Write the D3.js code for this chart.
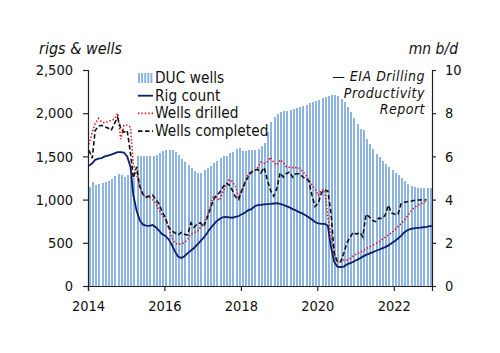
<!DOCTYPE html>
<html>
<head>
<meta charset="utf-8">
<script src="https://cdn.jsdelivr.net/npm/d3@7"></script>
<style>
  body { margin: 0; background: #fff; }
  text { font-family: "DejaVu Sans Condensed", "DejaVu Sans", sans-serif; fill: #111; }
</style>
</head>
<body>
<div id="chart"></div>
<script>
// monthly data starting Jan 2014
var startYear = 2014;

var ducWells = [1150, 1200, 1170, 1185, 1190, 1205, 1220, 1240, 1270, 1300, 1290, 1260,
  1280, 1270, 1250, 1510, 1510, 1510, 1505, 1510, 1510, 1520, 1540, 1565,
  1575, 1570, 1575, 1550, 1520, 1475, 1440, 1400, 1360, 1330, 1305, 1310,
  1340, 1365, 1385, 1420, 1445, 1480, 1500, 1505, 1535, 1550, 1590, 1600,
  1560, 1560, 1570, 1575, 1570, 1590, 1625, 1660, 1780, 1900, 1960, 1990,
  2010, 2025, 2030, 2040, 2050, 2055, 2070, 2085, 2100, 2115, 2125, 2140,
  2155, 2175, 2190, 2200, 2205, 2210, 2200, 2165, 2130, 2070, 2010, 1940,
  1870, 1815, 1800, 1700, 1640, 1580, 1530, 1490, 1450, 1410, 1380, 1340,
  1310, 1290, 1255, 1215, 1180, 1160, 1145, 1135, 1130, 1130, 1130, 1130];

var rigCount = [1390, 1420, 1460, 1475, 1480, 1500, 1510, 1520, 1535, 1550, 1550, 1545,
  1500, 1380, 1050, 870, 760, 710, 700, 695, 705, 680, 640, 600,
  580, 540, 480, 400, 340, 325, 345, 380, 410, 440, 480, 520,
  560, 610, 660, 705, 745, 775, 795, 800, 795, 790, 800, 810,
  830, 850, 875, 890, 920, 935, 940, 945, 948, 950, 955, 958,
  950, 940, 925, 910, 890, 875, 855, 840, 820, 795, 770, 740,
  725, 720, 718, 700, 450, 280, 225, 220, 225, 250, 265, 280,
  300, 320, 340, 360, 375, 390, 405, 420, 435, 450, 470, 495,
  520, 550, 580, 620, 645, 660, 668, 672, 675, 680, 685, 692, 695];

var wellsDrilled = [1640, 1780, 1880, 1940, 1900, 1890, 1900, 1920, 1930, 2000, 1700, 1860,
  1860, 1840, 1400, 1300, 1150, 1060, 1030, 1030, 1000, 960, 880, 820,
  770, 680, 560, 500, 480, 490, 500, 540, 600, 620, 625, 680,
  710, 800, 900, 1030, 1030, 990, 1080, 1160, 1230, 1210, 1150, 1030,
  1100, 1200, 1300, 1320, 1330, 1370, 1435, 1420, 1440, 1490, 1430, 1400,
  1460, 1430, 1380, 1375, 1370, 1370, 1365, 1330, 1290, 1230, 1170, 1120,
  1050, 1110, 1110, 800, 600, 360, 280, 280, 300, 300, 320, 350,
  370, 390, 405, 430, 450, 470, 490, 505, 540, 565, 590, 615,
  650, 690, 720, 760, 810, 860, 900, 930, 950, 965, 985];

var wellsCompleted = [1570, 1480, 1800, 1850, 1860, 1840, 1830, 1800, 1880, 1950, 1820, 1780,
  1800, 1540, 1250, 1380, 1150, 1060, 1030, 1040, 1050, 1000, 950, 860,
  790, 680, 640, 615, 590, 620, 600, 590, 730, 680, 720, 730,
  690, 780, 880, 990, 1050, 1080, 1140, 1190, 1170, 1110, 1030, 1000,
  1110, 1200, 1260, 1320, 1340, 1350, 1310, 1370, 1230, 1110, 1040, 1130,
  1310, 1260, 1300, 1320, 1260, 1300, 1300, 1270, 1240, 1220, 1050, 920,
  960, 1080, 1110, 1100, 850, 380, 280, 280, 380, 500, 570, 620,
  600, 620, 570, 830, 800, 760, 745, 785, 780, 820, 935, 845,
  830, 830, 950, 970, 975, 980, 990, 995, 995, 1000, 995];

var leftTicks = [0, 500, 1000, 1500, 2000, 2500];
var rightTicks = [0, 2, 4, 6, 8, 10];
var yearTicks = [2014, 2016, 2018, 2020, 2022];

var legendItems = [
  { name: "DUC wells", type: "bar" },
  { name: "Rig count", type: "line", color: "#0c1f6b", dash: null, w: 1.8 },
  { name: "Wells drilled", type: "line", color: "#e0121b", dash: "1.4,2", w: 1.6 },
  { name: "Wells completed", type: "line", color: "#111", dash: "4.5,2.5", w: 1.6 }
];

var W = 500, H = 353;
var svg = d3.select("#chart").append("svg")
  .attr("width", W).attr("height", H);

var x = d3.scaleTime()
  .domain([new Date(2014, 0, 1), new Date(2023, 0, 1)])
  .range([88, 432]);
var y = d3.scaleLinear().domain([0, 2500]).range([286, 70]);
var y2 = d3.scaleLinear().domain([0, 10]).range([286, 70]);

function monthDate(i) { return new Date(startYear, i, 1); }

// DUC bars
svg.append("g").selectAll("rect")
  .data(ducWells)
  .join("rect")
  .attr("x", function (d, i) { return x(monthDate(i)) + 1; })
  .attr("y", function (d) { return y(d); })
  .attr("width", 2)
  .attr("height", function (d) { return y(0) - y(d); })
  .attr("fill", "#8db4e2")
  .attr("shape-rendering", "crispEdges");

var line = d3.line()
  .x(function (d, i) { return x(monthDate(i)) + 1; })
  .y(function (d) { return y(d); });

svg.append("path").datum(rigCount)
  .attr("d", line).attr("fill", "none")
  .attr("stroke", legendItems[1].color).attr("stroke-width", legendItems[1].w);
svg.append("path").datum(wellsDrilled)
  .attr("d", line).attr("fill", "none")
  .attr("stroke", legendItems[2].color).attr("stroke-width", legendItems[2].w)
  .attr("stroke-dasharray", legendItems[2].dash);
svg.append("path").datum(wellsCompleted)
  .attr("d", line).attr("fill", "none")
  .attr("stroke", legendItems[3].color).attr("stroke-width", legendItems[3].w)
  .attr("stroke-dasharray", legendItems[3].dash);

// axes
var leftAxis = svg.append("g").attr("transform", "translate(88,0)")
  .call(d3.axisLeft(y).tickValues(leftTicks).tickSize(5).tickPadding(10)
    .tickFormat(d3.format(",")));
var rightAxis = svg.append("g").attr("transform", "translate(432,0)")
  .call(d3.axisRight(y2).tickValues(rightTicks).tickSize(4).tickPadding(9));
var bottomAxis = svg.append("g").attr("transform", "translate(0,286)")
  .call(d3.axisBottom(x).tickValues(yearTicks.map(function (v) { return new Date(v, 0, 1); }))
    .tickSize(5).tickPadding(10).tickFormat(d3.timeFormat("%Y")));

[leftAxis, rightAxis, bottomAxis].forEach(function (a) {
  a.select(".domain").attr("stroke", "#222").attr("stroke-width", 1.2);
  a.selectAll(".tick line").attr("stroke", "#222").attr("stroke-width", 1.2);
  a.selectAll("text").attr("font-size", 14.5)
    .attr("font-family", '"DejaVu Sans Condensed", "DejaVu Sans", sans-serif')
    .attr("fill", "#111");
});

// axis titles
svg.append("text").attr("x", 39).attr("y", 54)
  .attr("font-size", 16).attr("font-style", "italic")
  .text("rigs & wells");
svg.append("text").attr("x", 458).attr("y", 54)
  .attr("text-anchor", "end")
  .attr("font-size", 15.5).attr("font-style", "italic")
  .text("mn b/d");

// source note
var note = ["\u2014 EIA Drilling", "Productivity", "Report"];
note.forEach(function (t, i) {
  svg.append("text").attr("x", 425).attr("y", 81 + i * 16.5)
    .attr("text-anchor", "end")
    .attr("font-size", 14).attr("font-style", "italic")
    .attr("letter-spacing", 0.5)
    .text(t);
});

// legend
var lg = svg.append("g").attr("transform", "translate(138,78)");
legendItems.forEach(function (d, i) {
  var row = lg.append("g").attr("transform", "translate(0," + (i * 17.7) + ")");
  if (d.type === "bar") {
    for (var k = 0; k < 5; k++) {
      row.append("rect").attr("x", k * 3.1).attr("y", -5).attr("width", 2)
        .attr("height", 10).attr("fill", "#8db4e2");
    }
  } else {
    row.append("line").attr("x1", 0).attr("x2", 15).attr("y1", 0).attr("y2", 0)
      .attr("stroke", d.color).attr("stroke-width", d.w)
      .attr("stroke-dasharray", d.dash);
  }
  row.append("text").attr("x", 17).attr("y", 5)
    .attr("font-size", 15.3).text(d.name);
});
</script>
</body>
</html>
